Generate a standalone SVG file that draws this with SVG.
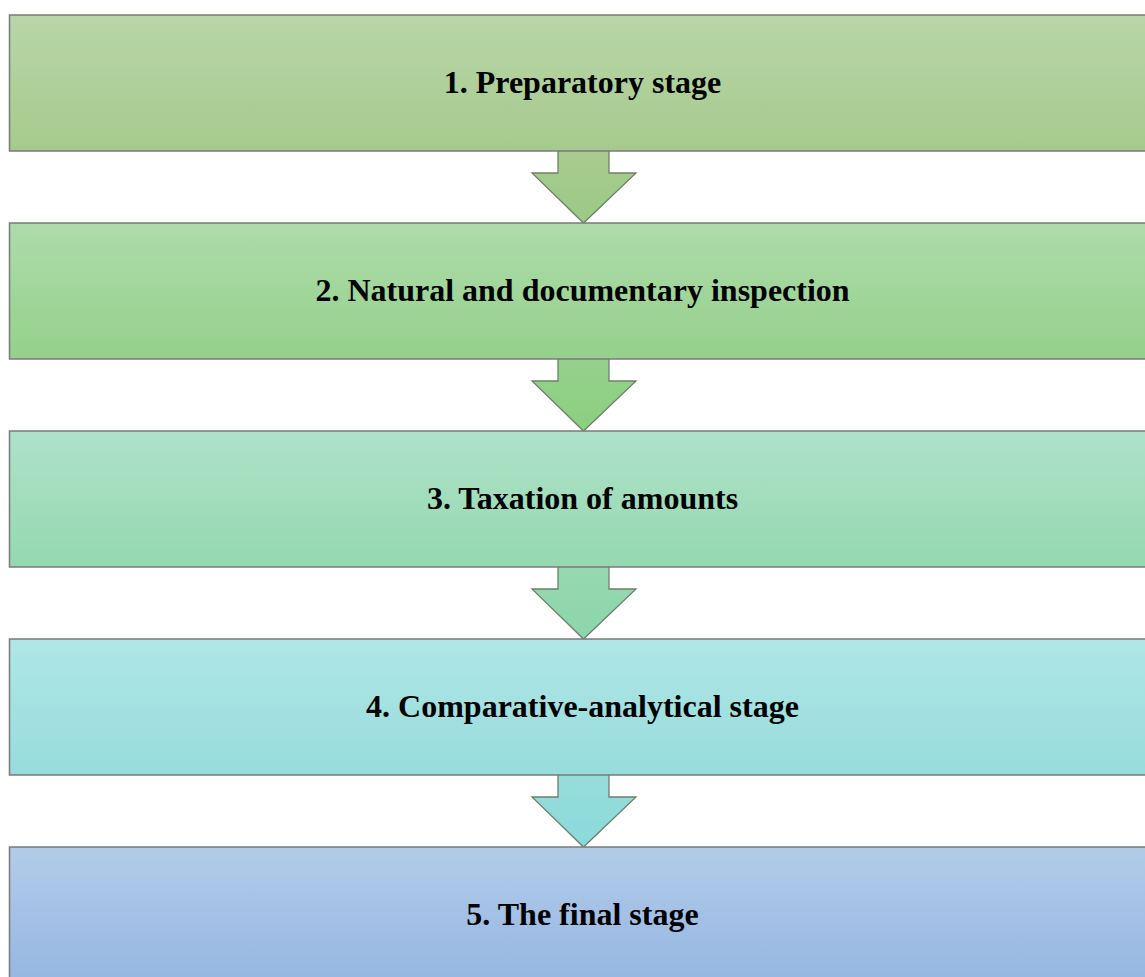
<svg xmlns="http://www.w3.org/2000/svg" width="1145" height="977" viewBox="0 0 1145 977">
  <defs>
    <linearGradient id="g1" x1="0" y1="0" x2="0" y2="1">
      <stop offset="0" stop-color="#b8d6a8"/>
      <stop offset="1" stop-color="#a6ca8d"/>
    </linearGradient>
    <linearGradient id="g2" x1="0" y1="0" x2="0" y2="1">
      <stop offset="0" stop-color="#addcaa"/>
      <stop offset="1" stop-color="#95d08c"/>
    </linearGradient>
    <linearGradient id="g3" x1="0" y1="0" x2="0" y2="1">
      <stop offset="0" stop-color="#aee2c8"/>
      <stop offset="1" stop-color="#95d8b0"/>
    </linearGradient>
    <linearGradient id="g4" x1="0" y1="0" x2="0" y2="1">
      <stop offset="0" stop-color="#b0e6e6"/>
      <stop offset="1" stop-color="#97dcdc"/>
    </linearGradient>
    <linearGradient id="g5" x1="0" y1="0" x2="0" y2="1">
      <stop offset="0" stop-color="#b2cbe9"/>
      <stop offset="1" stop-color="#95b7e2"/>
    </linearGradient>
    <linearGradient id="a1" x1="0" y1="0" x2="0" y2="1">
      <stop offset="0" stop-color="#a8cc8f"/>
      <stop offset="1" stop-color="#9cc985"/>
    </linearGradient>
    <linearGradient id="a2" x1="0" y1="0" x2="0" y2="1">
      <stop offset="0" stop-color="#96d18c"/>
      <stop offset="1" stop-color="#8acf80"/>
    </linearGradient>
    <linearGradient id="a3" x1="0" y1="0" x2="0" y2="1">
      <stop offset="0" stop-color="#96d8b1"/>
      <stop offset="1" stop-color="#8cd6ab"/>
    </linearGradient>
    <linearGradient id="a4" x1="0" y1="0" x2="0" y2="1">
      <stop offset="0" stop-color="#98dcdc"/>
      <stop offset="1" stop-color="#8adada"/>
    </linearGradient>
  </defs>
  <style>
    .box { stroke: #7a7a7a; stroke-width: 1.5; }
    .arrow { stroke: #6f7f6a; stroke-width: 1.3; stroke-linejoin: miter; }
    .label { font-family: "Liberation Serif", "Times New Roman", serif; font-weight: bold; font-size: 32px; fill: #000; text-anchor: middle; }
  </style>
  <rect width="1145" height="977" fill="#ffffff"/>

  <!-- connectors: block arrows between stages -->
  <g id="connectors">
    <path class="arrow" fill="url(#a1)" d="M558,151 L558,173 L532,173 L583.5,223 L636,173 L609,173 L609,151"/>
    <path class="arrow" fill="url(#a2)" d="M558,359 L558,381 L532,381 L583.5,431 L636,381 L609,381 L609,359"/>
    <path class="arrow" fill="url(#a3)" d="M558,567 L558,589 L532,589 L583.5,639 L636,589 L609,589 L609,567"/>
    <path class="arrow" fill="url(#a4)" d="M558,775 L558,797 L532,797 L583.5,847 L636,797 L609,797 L609,775"/>
  </g>

  <g id="stage1">
    <rect class="box" x="9.5" y="15" width="1150" height="136" fill="url(#g1)"/>
    <text class="label" x="582.5" y="93">1. Preparatory stage</text>
  </g>
  <g id="stage2">
    <rect class="box" x="9.5" y="223" width="1150" height="136" fill="url(#g2)"/>
    <text class="label" x="582.5" y="301">2. Natural and documentary inspection</text>
  </g>
  <g id="stage3">
    <rect class="box" x="9.5" y="431" width="1150" height="136" fill="url(#g3)"/>
    <text class="label" x="582.5" y="509">3. Taxation of amounts</text>
  </g>
  <g id="stage4">
    <rect class="box" x="9.5" y="639" width="1150" height="136" fill="url(#g4)"/>
    <text class="label" x="582.5" y="717">4. Comparative-analytical stage</text>
  </g>
  <g id="stage5">
    <rect class="box" x="9.5" y="847" width="1150" height="136" fill="url(#g5)"/>
    <text class="label" x="582.5" y="925">5. The final stage</text>
  </g>
</svg>
